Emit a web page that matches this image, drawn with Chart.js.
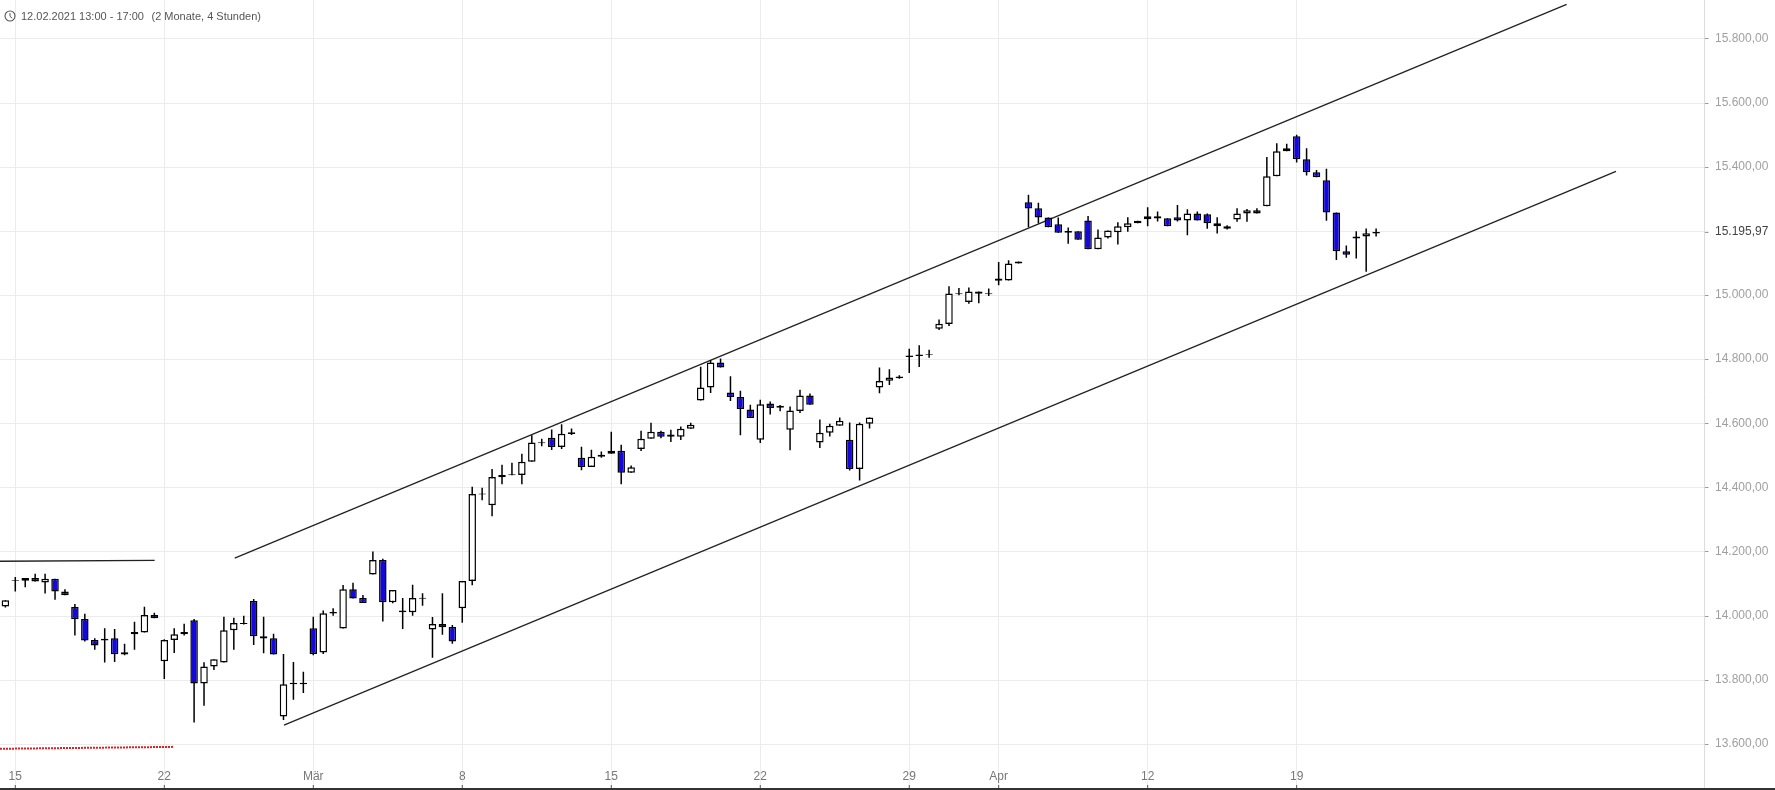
<!DOCTYPE html>
<html lang="de">

<head>
    <meta charset="UTF-8">
    <title>12.02.2021 13:00 - 17:00</title>
    <script src="https://cdn.jsdelivr.net/npm/chart.js@4"></script>
    <style>
        html, body { margin: 0; padding: 0; height: 790px; overflow: hidden; background: #333; }
        #wrap { position: relative; width: 1775px; height: 788px; background: #fff; }
        canvas { display: block; }
        .head { position: absolute; top: 10px; font: 11px "Liberation Sans", Arial, sans-serif; color: #555; white-space: nowrap; }
        svg { position: absolute; left: 4px; top: 10px; }
    </style>
</head>

<body>
    <div id="wrap">
        <canvas id="myChart" width="1775" height="788"></canvas>
        <svg width="12" height="12" viewBox="0 0 12 12">
            <circle cx="6" cy="6" r="5" fill="none" stroke="#555" stroke-width="1.1"></circle>
            <path d="M6 3 V6.3 L8.2 8.2" fill="none" stroke="#555" stroke-width="1"></path>
        </svg>
        <div class="head" style="left: 21px;">12.02.2021 13:00 - 17:00</div>
        <div class="head" style="left: 151.5px;">(2 Monate, 4 Stunden)</div>
    </div>

    <script>
        const opens = [
            14030, 14109, 14110, 14119, 14105, 14116, 14077, 14028, 13991, 13925,
            13924, 13931, 13880, 13943, 13949, 14003, 13859, 13925, 13943, 13987,
            13790, 13843, 13855, 13956, 13975, 14047, 13937, 13931, 13687, 13787,
            13787, 13962, 13886, 14008, 13961, 14084, 14056, 14130, 14175, 14043,
            14012, 14012, 14054, 13958, 13975, 13966, 14024, 14109, 14379, 14346,
            14433, 14439, 14440, 14481, 14539, 14556, 14527, 14568, 14494, 14465,
            14497, 14506, 14516, 14447, 14521, 14553, 14575, 14566, 14559, 14584,
            14672, 14713, 14791, 14697, 14683, 14644, 14550, 14663, 14650, 14581,
            14640, 14688, 14541, 14572, 14594, 14550, 14459, 14600, 14713, 14734,
            14742, 14808, 14811, 14814, 14896, 14911, 15004, 14980, 15012, 15004,
            15053, 15047, 15100, 15291, 15272, 15243, 15222, 15196, 15200, 15234,
            15144, 15181, 15197, 15213, 15225, 15238, 15247, 15241, 15244, 15234,
            15256, 15253, 15225, 15216, 15237, 15256, 15266, 15278, 15372, 15450,
            15497, 15425, 15384, 15359, 15259, 15138, 15178, 15184, 15193
        ]
        const highs = [
            14049, 14122, 14119, 14132, 14132, 14116, 14084, 14038, 14007, 13931,
            13962, 13960, 13914, 13982, 14029, 14010, 13928, 13962, 13976, 13991,
            13856, 13865, 13998, 13995, 14001, 14053, 13998, 13945, 13882, 13857,
            13826, 13998, 14017, 14024, 14097, 14104, 14066, 14201, 14179, 14081,
            14056, 14098, 14071, 13997, 14071, 13972, 14109, 14403, 14400, 14459,
            14472, 14478, 14506, 14564, 14553, 14582, 14598, 14585, 14528, 14519,
            14513, 14575, 14534, 14470, 14578, 14603, 14578, 14581, 14591, 14603,
            14778, 14798, 14803, 14748, 14703, 14659, 14675, 14669, 14658, 14654,
            14706, 14694, 14613, 14600, 14619, 14604, 14604, 14619, 14775, 14770,
            14751, 14834, 14845, 14831, 14925, 15029, 15023, 15025, 15012, 15022,
            15104, 15110, 15106, 15314, 15289, 15243, 15243, 15212, 15200, 15248,
            15206, 15203, 15228, 15244, 15233, 15275, 15262, 15241, 15282, 15269,
            15262, 15256, 15244, 15219, 15272, 15270, 15272, 15432, 15475, 15473,
            15501, 15459, 15391, 15395, 15259, 15156, 15200, 15209, 15209
        ]
        const lows = [
            14027, 14077, 14090, 14108, 14070, 14051, 14065, 13939, 13921, 13895,
            13855, 13857, 13878, 13895, 13949, 13993, 13804, 13885, 13939, 13668,
            13720, 13832, 13855, 13895, 13974, 13910, 13884, 13880, 13676, 13739,
            13760, 13878, 13882, 14001, 13961, 14055, 14041, 14130, 13983, 14040,
            13960, 14001, 14032, 13870, 13942, 13914, 13979, 14096, 14361, 14311,
            14411, 14439, 14411, 14481, 14530, 14518, 14521, 14565, 14455, 14465,
            14494, 14506, 14411, 14447, 14515, 14553, 14555, 14543, 14549, 14584,
            14672, 14696, 14775, 14671, 14564, 14618, 14540, 14629, 14639, 14517,
            14633, 14659, 14524, 14560, 14594, 14454, 14423, 14585, 14695, 14721,
            14740, 14758, 14777, 14806, 14892, 14905, 15001, 14974, 14976, 14998,
            15032, 15047, 15100, 15213, 15225, 15213, 15196, 15161, 15174, 15144,
            15144, 15178, 15159, 15199, 15225, 15216, 15231, 15216, 15231, 15188,
            15234, 15208, 15193, 15206, 15230, 15230, 15256, 15278, 15372, 15450,
            15415, 15374, 15369, 15233, 15111, 15118, 15115, 15074, 15184
        ]
        const closes = [
            14049, 14112, 14119, 14108, 14116, 14077, 14065, 13990, 13924, 13908,
            13929, 13881, 13887, 13950, 14003, 13993, 13925, 13943, 13950, 13790,
            13843, 13865, 13956, 13978, 13978, 13937, 13930, 13880, 13787, 13792,
            13792, 13882, 14009, 14013, 14084, 14055, 14041, 14175, 14043, 14081,
            14017, 14056, 14057, 13975, 13965, 13921, 14109, 14381, 14382, 14434,
            14440, 14442, 14481, 14541, 14542, 14527, 14569, 14573, 14465, 14497,
            14503, 14516, 14447, 14464, 14553, 14575, 14559, 14559, 14584, 14597,
            14713, 14791, 14775, 14683, 14646, 14618, 14661, 14649, 14656, 14641,
            14688, 14659, 14572, 14594, 14609, 14459, 14600, 14619, 14733, 14744,
            14747, 14813, 14816, 14817, 14912, 15006, 15007, 15012, 15005, 15007,
            15046, 15100, 15106, 15271, 15243, 15213, 15196, 15201, 15174, 15144,
            15181, 15203, 15216, 15225, 15233, 15247, 15240, 15216, 15234, 15256,
            15234, 15225, 15216, 15208, 15256, 15266, 15256, 15372, 15450, 15459,
            15425, 15384, 15369, 15259, 15138, 15127, 15184, 15194, 15198
        ]

        // x is candle number (4h candles), y is price
        const channelTop = [{ x: 23.09, y: 14181 }, { x: 157.18, y: 15908 }]
        const channelBottom = [{ x: 28.05, y: 13660 }, { x: 162.15, y: 15387 }]
        const resistance = [{ x: -0.54, y: 14171 }, { x: 15.03, y: 14174 }]
        const support = [{ x: -0.54, y: 13586 }, { x: 16.9, y: 13592 }]

        const lastPrice = 15195.97

        const xTickPos = [1, 16, 31, 46, 61, 76, 91, 100, 115, 130]
        const xTickLabels = ['15', '22', 'Mär', '8', '15', '22', '29', 'Apr', '12', '19']
        const yTickPos = [13600, 13800, 14000, 14200, 14400, 14600, 14800, 15000, lastPrice, 15200, 15400, 15600, 15800]
        const yTickLabels = ['13.600,00', '13.800,00', '14.000,00', '14.200,00', '14.400,00', '14.600,00',
            '14.800,00', '15.000,00', '15.195,97', '', '15.400,00', '15.600,00', '15.800,00']

        const bodies = opens.map((o, i) => ({ x: i, y: [o, closes[i]] }))
        const wicks = lows.map((l, i) => ({ x: i, y: [l, highs[i]] }))

        // small dark ticks at the bottom edge, they sit inside the plot here
        const bottomTicks = {
            id: 'bottomTicks',
            afterDraw(chart) {
                const ctx = chart.ctx
                const s = chart.scales.x
                ctx.save()
                ctx.strokeStyle = '#555'
                ctx.lineWidth = 1
                xTickPos.forEach(v => {
                    const px = s.getPixelForValue(v)
                    ctx.beginPath()
                    ctx.moveTo(px, 785)
                    ctx.lineTo(px, 788)
                    ctx.stroke()
                })
                ctx.restore()
            }
        }

        function noPadding(scale) {
            scale.paddingTop = 0
            scale.paddingBottom = 0
            scale.paddingLeft = 0
            scale.paddingRight = 0
        }

        function trendLine(data, color, width, dash) {
            return {
                type: 'line',
                data: data,
                borderColor: color,
                borderWidth: width,
                borderDash: dash,
                pointRadius: 0,
                tension: 0,
                order: 3
            }
        }

        new Chart(document.getElementById('myChart').getContext('2d'), {
            type: 'bar',
            data: {
                datasets: [{
                    data: bodies,
                    backgroundColor: opens.map((o, i) => closes[i] < o ? '#1408dc' : '#ffffff'),
                    borderColor: '#000000',
                    borderWidth: 1.5,
                    borderSkipped: false,
                    inflateAmount: 0,
                    barThickness: 7.5,
                    grouped: false,
                    order: 1
                }, {
                    data: wicks,
                    backgroundColor: '#000000',
                    borderWidth: 0,
                    inflateAmount: 0,
                    barThickness: 1.5,
                    grouped: false,
                    order: 2
                },
                trendLine(channelTop, '#222222', 1.3, []),
                trendLine(channelBottom, '#222222', 1.3, []),
                trendLine(resistance, '#222222', 1.3, []),
                trendLine(support, '#e02020', 2, [2, 1])]
            },
            plugins: [bottomTicks],
            options: {
                responsive: false,
                animation: false,
                layout: { padding: 0 },
                plugins: { legend: { display: false }, tooltip: { enabled: false } },
                scales: {
                    x: {
                        type: 'linear',
                        min: -0.54,
                        max: 171.06,
                        offset: false,
                        afterBuildTicks: scale => { scale.ticks = xTickPos.map(v => ({ value: v })) },
                        afterFit: scale => { scale.height = 0; noPadding(scale) },
                        grid: { color: '#ececec', lineWidth: 1, drawTicks: false, offset: false },
                        border: { display: false },
                        ticks: {
                            autoSkip: false,
                            maxRotation: 0,
                            mirror: true,
                            padding: 4,
                            color: '#777',
                            font: { family: 'Liberation Sans', size: 12 },
                            callback: v => xTickLabels[xTickPos.indexOf(v)]
                        }
                    },
                    y: {
                        position: 'right',
                        min: 13463.7,
                        max: 15921.6,
                        afterBuildTicks: scale => { scale.ticks = yTickPos.map(v => ({ value: v })) },
                        afterFit: scale => { scale.width = 70.5; noPadding(scale) },
                        grid: {
                            color: c => c.tick && c.tick.value === lastPrice ? 'rgba(0,0,0,0)' : '#ececec',
                            tickColor: c => c.tick && c.tick.value === 15200 ? '#ececec' : '#999',
                            lineWidth: 1,
                            tickLength: 4
                        },
                        border: { color: '#dcdcdc' },
                        ticks: {
                            autoSkip: false,
                            padding: 6.5,
                            labelOffset: -0.5,
                            color: c => c.tick.value === lastPrice ? '#444' : '#a0a0a0',
                            font: { family: 'Liberation Sans', size: 12 },
                            callback: v => yTickLabels[yTickPos.indexOf(v)]
                        }
                    }
                }
            }
        })
    </script>
</body>

</html>
